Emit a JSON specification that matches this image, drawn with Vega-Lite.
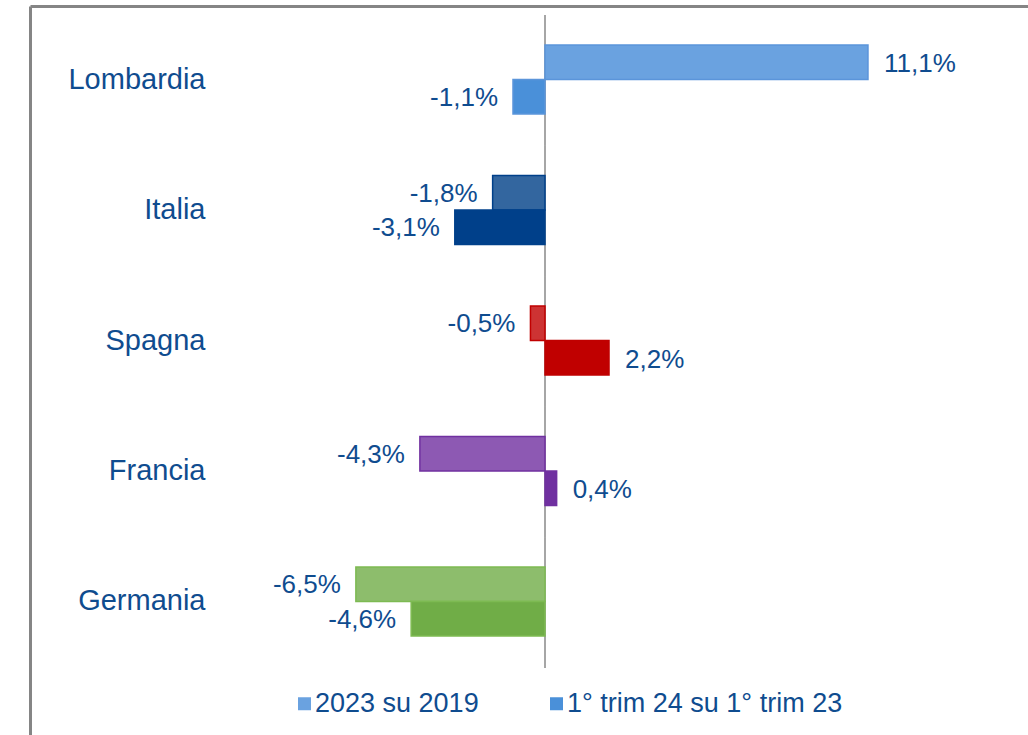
{
  "$schema": "https://vega.github.io/schema/vega-lite/v6.json",
  "width": 998,
  "height": 729,
  "autosize": {"type": "none"},
  "padding": {"left": 30, "top": 6, "right": 0, "bottom": 0},
  "background": "white",
  "config": {
    "view": {"stroke": null},
    "font": "Liberation Sans"
  },
  "data": {
    "values": [
      {"country": "Lombardia", "series": "2023 su 2019", "key": "Lombardia|2023 su 2019", "value": 11.1, "label": "11,1%"},
      {"country": "Lombardia", "series": "1° trim 24 su 1° trim 23", "key": "Lombardia|1° trim 24 su 1° trim 23", "value": -1.1, "label": "-1,1%"},
      {"country": "Italia", "series": "2023 su 2019", "key": "Italia|2023 su 2019", "value": -1.8, "label": "-1,8%"},
      {"country": "Italia", "series": "1° trim 24 su 1° trim 23", "key": "Italia|1° trim 24 su 1° trim 23", "value": -3.1, "label": "-3,1%"},
      {"country": "Spagna", "series": "2023 su 2019", "key": "Spagna|2023 su 2019", "value": -0.5, "label": "-0,5%"},
      {"country": "Spagna", "series": "1° trim 24 su 1° trim 23", "key": "Spagna|1° trim 24 su 1° trim 23", "value": 2.2, "label": "2,2%"},
      {"country": "Francia", "series": "2023 su 2019", "key": "Francia|2023 su 2019", "value": -4.3, "label": "-4,3%"},
      {"country": "Francia", "series": "1° trim 24 su 1° trim 23", "key": "Francia|1° trim 24 su 1° trim 23", "value": 0.4, "label": "0,4%"},
      {"country": "Germania", "series": "2023 su 2019", "key": "Germania|2023 su 2019", "value": -6.5, "label": "-6,5%"},
      {"country": "Germania", "series": "1° trim 24 su 1° trim 23", "key": "Germania|1° trim 24 su 1° trim 23", "value": -4.6, "label": "-4,6%"}
    ]
  },
  "resolve": {"scale": {"y": "independent"}, "axis": {"y": "independent"}},
  "layer": [
    {
      "mark": {"type": "rect", "color": "#A6A6A6"},
      "encoding": {
        "x": {"datum": -0.035, "type": "quantitative", "scale": {"domain": [-17.7, 16.6], "nice": false, "zero": false},
              "axis": {"orient": "top", "domain": true, "domainColor": "#858585", "domainWidth": 3, "labels": false, "ticks": false, "grid": false, "title": null}},
        "x2": {"datum": 0.035},
        "y": {"field": "country", "type": "nominal", "axis": null,
              "scale": {"domain": ["Lombardia", "Italia", "Spagna", "Francia", "Germania"], "paddingInner": 0, "paddingOuter": 0.291, "align": 0.118}}
      }
    },
    {
      "encoding": {
        "y": {"field": "country", "type": "nominal",
              "scale": {"domain": ["Lombardia", "Italia", "Spagna", "Francia", "Germania"], "paddingInner": 0.471, "paddingOuter": 0.5287, "align": 0.2826},
              "axis": {"orient": "left", "domain": true, "domainColor": "#858585", "domainWidth": 3, "ticks": false, "grid": false, "title": null,
                       "labelFontSize": 29, "labelColor": "#0F4C8F", "labelAlign": "right", "labelBaseline": "middle", "labelPadding": -175}},
        "yOffset": {"field": "series", "type": "nominal",
                    "scale": {"domain": ["2023 su 2019", "1° trim 24 su 1° trim 23"], "paddingInner": 0, "paddingOuter": 0}},
        "x": {"field": "value", "type": "quantitative", "scale": {"domain": [-17.7, 16.6], "nice": false, "zero": false},
              "axis": {"orient": "top", "domain": true, "domainColor": "#858585", "domainWidth": 3, "labels": false, "ticks": false, "grid": false, "title": null}}
      },
      "layer": [
        {
          "mark": {"type": "bar", "strokeWidth": 1.5},
          "encoding": {
            "x2": {"datum": 0},
            "fill": {"field": "key", "type": "nominal",
                     "scale": {
                       "domain": ["Lombardia|2023 su 2019", "Lombardia|1° trim 24 su 1° trim 23", "Italia|2023 su 2019", "Italia|1° trim 24 su 1° trim 23", "Spagna|2023 su 2019", "Spagna|1° trim 24 su 1° trim 23", "Francia|2023 su 2019", "Francia|1° trim 24 su 1° trim 23", "Germania|2023 su 2019", "Germania|1° trim 24 su 1° trim 23"],
                       "range": ["#6AA2E0", "#4A90D9", "#33669F", "#00408A", "#CD3333", "#C00000", "#8D59B3", "#7030A0", "#8DBD6C", "#70AD47"]
                     },
                     "legend": {
                       "values": ["Lombardia|2023 su 2019", "Lombardia|1° trim 24 su 1° trim 23"],
                       "labelExpr": "split(datum.label, '|')[1]",
                       "orient": "none", "legendX": 261, "legendY": 684, "direction": "horizontal",
                       "title": null, "symbolType": "square", "symbolSize": 169, "symbolStrokeWidth": 0,
                       "labelFontSize": 27, "labelColor": "#0F4C8F", "labelOffset": -3, "labelLimit": 0, "columnPadding": 64, "padding": 0
                     }},
            "stroke": {"field": "country", "type": "nominal", "legend": null,
                       "scale": {"domain": ["Lombardia", "Italia", "Spagna", "Francia", "Germania"], "range": ["#5B95DA", "#00408A", "#C00000", "#7030A0", "#7DBA52"]}}
          }
        },
        {
          "transform": [{"filter": "datum.value >= 0"}],
          "mark": {"type": "text", "align": "left", "baseline": "middle", "dx": 16, "dy": 2, "fontSize": 26, "color": "#0F4C8F"},
          "encoding": {"text": {"field": "label"}}
        },
        {
          "transform": [{"filter": "datum.value < 0"}],
          "mark": {"type": "text", "align": "right", "baseline": "middle", "dx": -15, "dy": 1, "fontSize": 26, "color": "#0F4C8F"},
          "encoding": {"text": {"field": "label"}}
        }
      ]
    }
  ]
}
